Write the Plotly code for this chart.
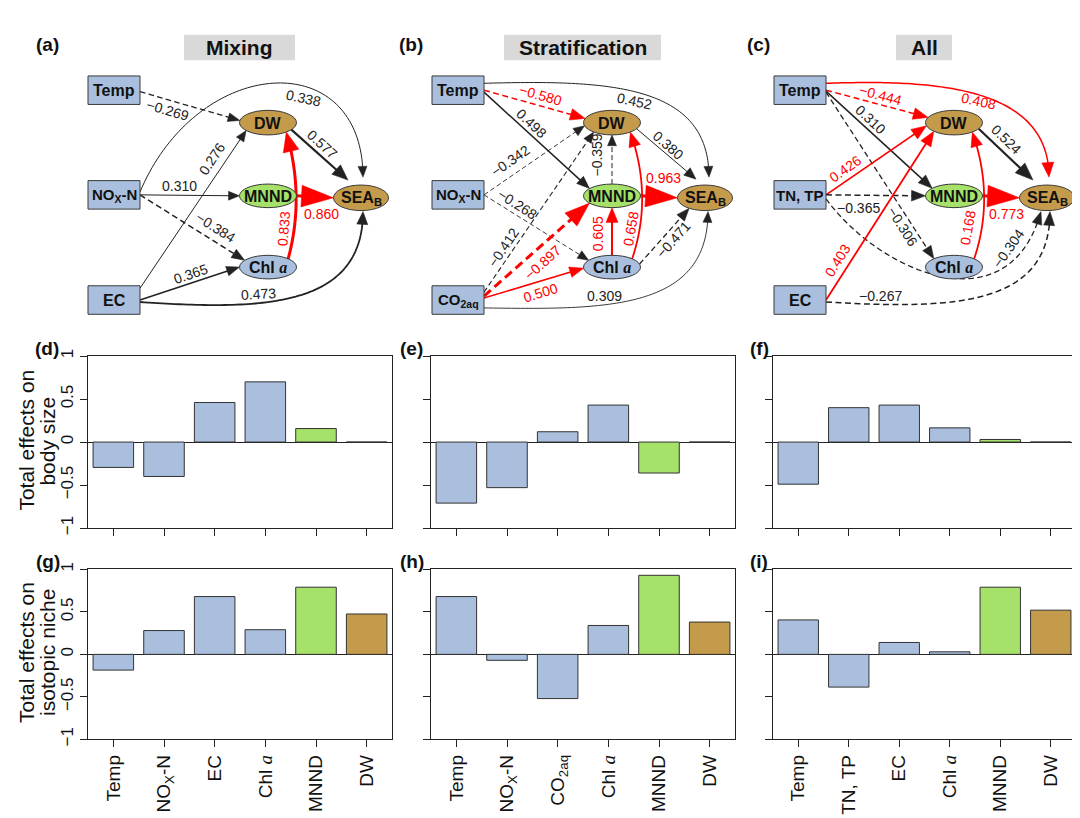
import math
import plotly.graph_objects as go

W, H = 1080, 818

# ---------------- data: bar charts (total effects) ----------------
mix_cats = ["Temp", "NO<sub>X</sub>-N", "EC", "Chl <i>a</i>", "MNND", "DW"]
strat_cats = ["Temp", "NO<sub>X</sub>-N", "CO<sub>2aq</sub>", "Chl <i>a</i>", "MNND", "DW"]
all_cats = ["Temp", "TN, TP", "EC", "Chl <i>a</i>", "MNND", "DW"]

mix_body = [-0.295, -0.40, 0.46, 0.70, 0.157, 0.0]
strat_body = [-0.71, -0.53, 0.12, 0.43, -0.36, 0.0]
all_body = [-0.49, 0.40, 0.43, 0.165, 0.03, 0.0]

mix_niche = [-0.185, 0.28, 0.68, 0.29, 0.79, 0.475]
strat_niche = [0.68, -0.07, -0.52, 0.34, 0.93, 0.38]
all_niche = [0.405, -0.385, 0.14, 0.03, 0.79, 0.52]

y_ticks = [-1, -0.5, 0, 0.5, 1]
y_ticktext = ["\u22121", "\u22120.5", "0", "0.5", "1"]

# ---------------- data: path coefficients ----------------
mix_from = ["Temp", "NOx", "EC", "NOx", "NOx", "EC", "EC", "DW", "MNND", "Chl"]
mix_to = ["DW", "SEA", "DW", "MNND", "Chl", "Chl", "SEA", "SEA", "SEA", "DW"]
mix_coef = [-0.269, 0.338, 0.276, 0.310, -0.384, 0.365, 0.473, 0.577, 0.860, 0.833]
mix_red = [0, 0, 0, 0, 0, 0, 0, 0, 1, 1]

strat_from = ["Temp", "Temp", "Temp", "NOx", "NOx", "CO2", "CO2", "CO2", "CO2",
              "MNND", "Chl", "Chl", "DW", "MNND", "Chl"]
strat_to = ["DW", "SEA", "MNND", "DW", "Chl", "DW", "MNND", "Chl", "SEA",
            "DW", "MNND", "DW", "SEA", "SEA", "SEA"]
strat_coef = [-0.580, 0.452, 0.498, -0.342, -0.268, -0.412, -0.897, 0.500, 0.309,
              -0.359, 0.605, 0.658, 0.380, 0.963, -0.471]
strat_red = [1, 0, 0, 0, 0, 0, 1, 1, 0, 0, 1, 1, 0, 1, 0]

all_from = ["Temp", "Temp", "Temp", "Temp", "TNTP", "TNTP", "TNTP", "EC", "EC", "DW", "MNND", "Chl"]
all_to = ["DW", "SEA", "MNND", "Chl", "DW", "MNND", "SEA", "DW", "SEA", "SEA", "SEA", "DW"]
all_coef = [-0.444, 0.408, 0.310, -0.306, 0.426, -0.365, -0.304, 0.403, -0.267, 0.524, 0.773, 0.168]
all_red = [1, 1, 0, 0, 1, 0, 0, 1, 0, 0, 1, 1]

panel_titles = ["Mixing", "Stratification", "All"]

# ---------------- styles / layout ----------------
BLUE = "#a9bfdd"
GREEN = "#a6e16a"
BROWN = "#c49b4b"
RED = "#ff0000"
INK = "#222222"
FONT = "Liberation Sans, Arial, sans-serif"
SERIF_A = '<span style="font-family:Liberation Serif"><i>a</i></span>'

NODE_POS = {"Temp": (106, 76.5), "NOx": (106, 183), "TNTP": (106, 183),
            "EC": (106, 290), "CO2": (106, 290),
            "DW": (260, 109.5), "MNND": (260, 184), "Chl": (260, 256.5), "SEA": (353, 186)}
RECT_HALF = (26, 14.5)
ELL_R = {"DW": (28.5, 12.5), "MNND": (28.5, 12), "Chl": (28.5, 12), "SEA": (27.5, 13)}
NODE_FILL = {"DW": BROWN, "MNND": GREEN, "Chl": BLUE, "SEA": BROWN}
NODE_TEXT = {"Temp": "<b>Temp</b>", "NOx": "<b>NO<sub>X</sub>-N</b>", "TNTP": "<b>TN, TP</b>",
             "EC": "<b>EC</b>", "CO2": "<b>CO<sub>2aq</sub></b>", "DW": "<b>DW</b>",
             "MNND": "<b>MNND</b>", "Chl": "<b>Chl</b> <b>" + SERIF_A + "</b>",
             "SEA": "<b>SEA<sub>B</sub></b>"}
PANEL_NODES = [["Temp", "NOx", "EC", "DW", "MNND", "Chl", "SEA"],
               ["Temp", "NOx", "CO2", "DW", "MNND", "Chl", "SEA"],
               ["Temp", "TNTP", "EC", "DW", "MNND", "Chl", "SEA"]]
PANEL_OFF = [0, 344, 686]


def G(s, d, w, h, lab, c=None):
    return {"s": s, "d": d, "w": w, "h": h, "lab": lab, "c": c or []}


# geometry of each edge (panel-(a) frame coordinates)
mix_geom = [
    G(("d", 26, 1.5), ("a", 190), 1.3, (12, 4.5), (159, 97, None)),
    G(("d", 26, -3), ("d", 2, -21), 1.0, (11, 4.5), (295, 84, 12), [(190, 40), (355, 30)]),
    G(("d", 26, -12), ("a", 140), 1.0, (11, 4.5), (204, 147, None)),
    G(("d", 26, 0), ("a", 180), 1.0, (11, 4.5), (171, 174, 0)),
    G(("d", 26, 0), ("a", 215), 1.5, (13, 5), (207, 216, None)),
    G(("d", 26, 0), ("a", 180), 1.5, (13, 5), (182, 263, None)),
    G(("d", 26, 2), ("d", 2, 14), 1.8, (13, 5.5), (250, 284, -3), [(250, 300), (355, 300)]),
    G(("a", 35), ("d", -13, -18), 2.2, (16, 6.5), (314, 131, None)),
    G(("a", 0), ("a", 180), 3.0, (32, 11), (313, 202, 0)),
    G(("a", 315), ("a", 50), 3.0, (20, 8), (276, 218, -85), [(297, 185)]),
]
strat_geom = [
    G(("d", 26, 0), ("a", 200), 1.5, (15, 6), (188, 81, None)),
    G(("d", 26, -7), ("d", 4, -21), 1.0, (11, 4.5), (282, 87, 12), [(256, 66), (357, 70)]),
    G(("d", 26, 2), ("a", 218), 1.5, (13, 5), (179, 110, None)),
    G(("d", 26, 0), ("a", 165), 0.9, (11, 4.5), (158, 149, None)),
    G(("d", 26, 0), ("a", 215), 0.9, (11, 4.5), (165, 192, None)),
    G(("d", 26, -8), ("a", 130), 1.1, (11, 4.5), (151, 237, None)),
    G(("d", 26, -4), ("a", 142), 3.0, (25, 9), (190, 252, None)),
    G(("d", 26, -2), ("a", 175), 1.5, (14, 5.5), (188, 283, None)),
    G(("d", 26, 8), ("d", 3, 14), 0.9, (11, 4.5), (252, 286, 0), [(256, 300), (356, 300)]),
    G(("a", 270), ("a", 90), 1.0, (11, 4.5), (245, 143, -90)),
    G(("a", 270), ("a", 90), 2.0, (15, 6), (246, 223, -90)),
    G(("a", 315), ("a", 50), 1.8, (15, 6), (279, 218, -80), [(301, 185)]),
    G(("a", 30), ("d", -9, -19), 1.0, (12, 5), (316, 132, None)),
    G(("a", 0), ("a", 180), 3.0, (32, 11), (311, 166, 0)),
    G(("a", 345), ("a", 125), 1.3, (13, 5), (321, 229, None)),
]
all_geom = [
    G(("d", 26, 0), ("a", 205), 1.5, (15, 6), (186, 81, None)),
    G(("d", 26, -7), ("d", 2, -21), 1.5, (15, 6), (284, 88, 12), [(234, 66), (355, 70)]),
    G(("d", 26, 1), ("a", 220), 1.5, (14, 5.5), (176, 106, None)),
    G(("d", 26, 2), ("a", 225), 1.3, (13, 5), (208, 215, None)),
    G(("d", 26, 0), ("a", 165), 1.8, (15, 6), (151, 157, None)),
    G(("d", 26, 0), ("a", 180), 1.5, (14, 5.5), (164, 196, 0)),
    G(("d", 26, 4), ("d", -6, 14), 1.3, (13, 5), (314, 238, -55), [(184, 260), (314, 320)]),
    G(("d", 26, 0), ("a", 135), 1.8, (15, 6), (143, 250, None)),
    G(("d", 26, 2), ("d", 3, 14), 1.5, (14, 5.5), (186, 286, 0), [(264, 300), (356, 295)]),
    G(("a", 30), ("d", -14, -18), 2.2, (18, 7), (312, 126, None)),
    G(("a", 0), ("a", 180), 3.0, (32, 11), (312, 202, 0)),
    G(("a", 315), ("a", 50), 1.8, (15, 6), (274, 217, -80), [(301, 185)]),
]

PANELS = [(mix_from, mix_to, mix_coef, mix_red, mix_geom),
          (strat_from, strat_to, strat_coef, strat_red, strat_geom),
          (all_from, all_to, all_coef, all_red, all_geom)]

shapes = []
annotations = []


def txt(x, y, text, size=13, color=INK, angle=0, xanchor="center", yanchor="middle"):
    annotations.append(dict(x=x, y=y, xref="x7", yref="y7", text=text, showarrow=False,
                            textangle=angle, xanchor=xanchor, yanchor=yanchor,
                            font=dict(family=FONT, size=size, color=color)))


def anchor_pt(name, a, off):
    cx, cy = NODE_POS[name]
    cx += off
    if a[0] == "d":
        return (cx + a[1], cy + a[2])
    rx, ry = ELL_R[name]
    t = math.radians(a[1])
    return (cx + rx * math.cos(t), cy + ry * math.sin(t))


def bezier(pts, n=80):
    out = []
    for i in range(n + 1):
        t = i / n
        p = list(pts)
        while len(p) > 1:
            p = [((1 - t) * a[0] + t * b[0], (1 - t) * a[1] + t * b[1]) for a, b in zip(p[:-1], p[1:])]
        out.append(p[0])
    return out


def path_str(pts, close=False):
    s = "M" + " L".join(f"{x:.2f},{y:.2f}" for x, y in pts)
    return s + (" Z" if close else "")


def draw_edge(off, s, d, coef, red, g):
    p0 = anchor_pt(s, g["s"], off)
    tip = anchor_pt(d, g["d"], off)
    ctrl = [(x + off, y) for x, y in g["c"]]
    L, hw = g["h"]
    if ctrl:
        pts = bezier([p0] + ctrl + [tip])
        ref = pts[0]
        for p in reversed(pts):
            if math.hypot(tip[0] - p[0], tip[1] - p[1]) >= L:
                ref = p
                break
    else:
        pts = [p0, tip]
        ref = p0
    ux, uy = tip[0] - ref[0], tip[1] - ref[1]
    n = math.hypot(ux, uy)
    ux, uy = ux / n, uy / n
    cut = 0.6 * L
    shaft = [p for p in pts if math.hypot(tip[0] - p[0], tip[1] - p[1]) > cut + 0.5]
    if ctrl:
        shaft = shaft[:-1] if len(shaft) > 2 else shaft
    else:
        shaft = [p0]
    shaft.append((tip[0] - cut * ux, tip[1] - cut * uy))
    col = RED if red else INK
    w = g["w"]
    dash = f"{3 + 2 * w:.1f}px,{2 + w:.1f}px" if coef < 0 else "solid"
    shapes.append(dict(type="path", xref="x7", yref="y7", path=path_str(shaft),
                       line=dict(color=col, width=w, dash=dash), layer="above"))
    bx, by = tip[0] - L * ux, tip[1] - L * uy
    px, py = -uy, ux
    head = [tip, (bx + hw * px, by + hw * py), (bx - hw * px, by - hw * py)]
    shapes.append(dict(type="path", xref="x7", yref="y7", path=path_str(head, True),
                       fillcolor=col, line=dict(color=col, width=0.5), layer="above"))
    lx, ly, ang = g["lab"]
    if ang is None:
        dx, dy = tip[0] - p0[0], tip[1] - p0[1]
        ang = math.degrees(math.atan2(dy, dx))
        if ang > 90:
            ang -= 180
        if ang < -90:
            ang += 180
    label = f"{coef:.3f}".replace("-", "\u2212")
    txt(lx + off, ly, label, size=14, color=col, angle=ang)


for pi, (fr, to, cf, rd, geo) in enumerate(PANELS):
    off = PANEL_OFF[pi]
    for s, d, c, r, g in zip(fr, to, cf, rd, geo):
        draw_edge(off, s, d, c, r, g)
    for name in PANEL_NODES[pi]:
        cx, cy = NODE_POS[name]
        cx += off
        if name in ELL_R:
            rx, ry = ELL_R[name]
            shapes.append(dict(type="circle", xref="x7", yref="y7", x0=cx - rx, x1=cx + rx,
                               y0=cy - ry, y1=cy + ry, fillcolor=NODE_FILL[name],
                               line=dict(color="#3a3a3a", width=1), layer="above"))
            txt(cx, cy + 0.5, NODE_TEXT[name], size=16, color="#111")
        else:
            hx, hy = RECT_HALF
            shapes.append(dict(type="rect", xref="x7", yref="y7", x0=cx - hx, x1=cx + hx,
                               y0=cy - hy, y1=cy + hy, fillcolor=BLUE,
                               line=dict(color="#3a3a3a", width=1), layer="above"))
            txt(cx, cy + 0.5, NODE_TEXT[name], size=16 if name in ("Temp", "EC") else 15,
                color="#111")

# panel titles (grey boxes)
title_boxes = [(176, 287), (496, 653), (888, 944)]
for (x0, x1), t in zip(title_boxes, panel_titles):
    shapes.append(dict(type="rect", xref="x7", yref="y7", x0=x0, x1=x1, y0=20, y1=46,
                       fillcolor="#d9d9d9", line=dict(width=0), layer="below"))
    txt((x0 + x1) / 2, 33.5, f"<b>{t}</b>", size=21, color="#111")

# panel letters
letters = [("(a)", 39, 30), ("(b)", 403, 30), ("(c)", 750, 30),
           ("(d)", 39, 339), ("(e)", 403, 339), ("(f)", 751, 339),
           ("(g)", 40, 556), ("(h)", 404, 556), ("(i)", 751, 556)]
for t, x, y in letters:
    txt(x, y, f"<b>{t}</b>", size=19, color="#111")

# y-axis titles
txt(19, 433, "Total effects on", size=21, color="#111", angle=-90)
txt(40, 434, "body size", size=21, color="#111", angle=-90)
txt(19, 649, "Total effects on", size=21, color="#111", angle=-90)
txt(40, 649, "isotopic niche", size=21, color="#111", angle=-90)

# ---------------- bar panels ----------------
fig = go.Figure()
cols_px = [(80, 384), (423, 727), (765, 1068)]
rows_px = [(347, 522), (564, 737)]
cats_list = [mix_cats, strat_cats, all_cats]
body_list = [mix_body, strat_body, all_body]
niche_list = [mix_niche, strat_niche, all_niche]
bar_colors = [BLUE, BLUE, BLUE, BLUE, GREEN, BROWN]

layout = {}
for r in range(2):
    for c in range(3):
        k = r * 3 + c + 1
        vals = body_list[c] if r == 0 else niche_list[c]
        cats = [x.replace("<i>a</i>", SERIF_A) for x in cats_list[c]]
        fig.add_trace(go.Bar(x=cats, y=vals, width=0.8, xaxis=f"x{k}", yaxis=f"y{k}",
                             marker=dict(color=bar_colors, line=dict(color="#333333", width=1)),
                             showlegend=False, hoverinfo="skip"))
        x0, x1 = cols_px[c]
        y0, y1 = rows_px[r]
        xname = "xaxis" if k == 1 else f"xaxis{k}"
        yname = "yaxis" if k == 1 else f"yaxis{k}"
        layout[xname] = dict(domain=[x0 / W, x1 / W], anchor=f"y{k}", type="category",
                             range=[-0.5, 5.5], showline=True, mirror=True, linecolor=INK,
                             linewidth=1, ticks="outside", ticklen=7, tickcolor=INK,
                             showticklabels=(r == 1), tickangle=-90,
                             tickfont=dict(family=FONT, size=19, color="#111"),
                             showgrid=False, zeroline=False, fixedrange=True)
        layout[yname] = dict(domain=[1 - y1 / H, 1 - y0 / H], anchor=f"x{k}", range=[-1, 1],
                             tickvals=y_ticks, ticktext=y_ticktext, tickangle=-90,
                             showticklabels=(c == 0), ticks="outside", ticklen=7, tickcolor=INK,
                             tickfont=dict(family=FONT, size=17, color="#111"),
                             showline=True, mirror=True, linecolor=INK, linewidth=1,
                             zeroline=True, zerolinecolor=INK, zerolinewidth=1,
                             showgrid=False, fixedrange=True)

# overlay pixel-space axis for the path diagrams
node_x = [NODE_POS[n][0] + PANEL_OFF[i] for i in range(3) for n in PANEL_NODES[i]]
node_y = [NODE_POS[n][1] for i in range(3) for n in PANEL_NODES[i]]
fig.add_trace(go.Scatter(x=node_x, y=node_y, mode="markers", xaxis="x7", yaxis="y7",
                         marker=dict(size=1, opacity=0), showlegend=False, hoverinfo="skip"))
layout["xaxis7"] = dict(domain=[0, 1], range=[0, W], visible=False, fixedrange=True)
layout["yaxis7"] = dict(domain=[0, 1], range=[H, 0], visible=False, fixedrange=True)

fig.update_layout(**layout)
fig.update_layout(width=W, height=H, margin=dict(l=0, r=0, t=0, b=0),
                  paper_bgcolor="white", plot_bgcolor="rgba(0,0,0,0)",
                  shapes=shapes, annotations=annotations, bargap=0.2,
                  font=dict(family=FONT, color=INK))

fig.write_html("out.html")
